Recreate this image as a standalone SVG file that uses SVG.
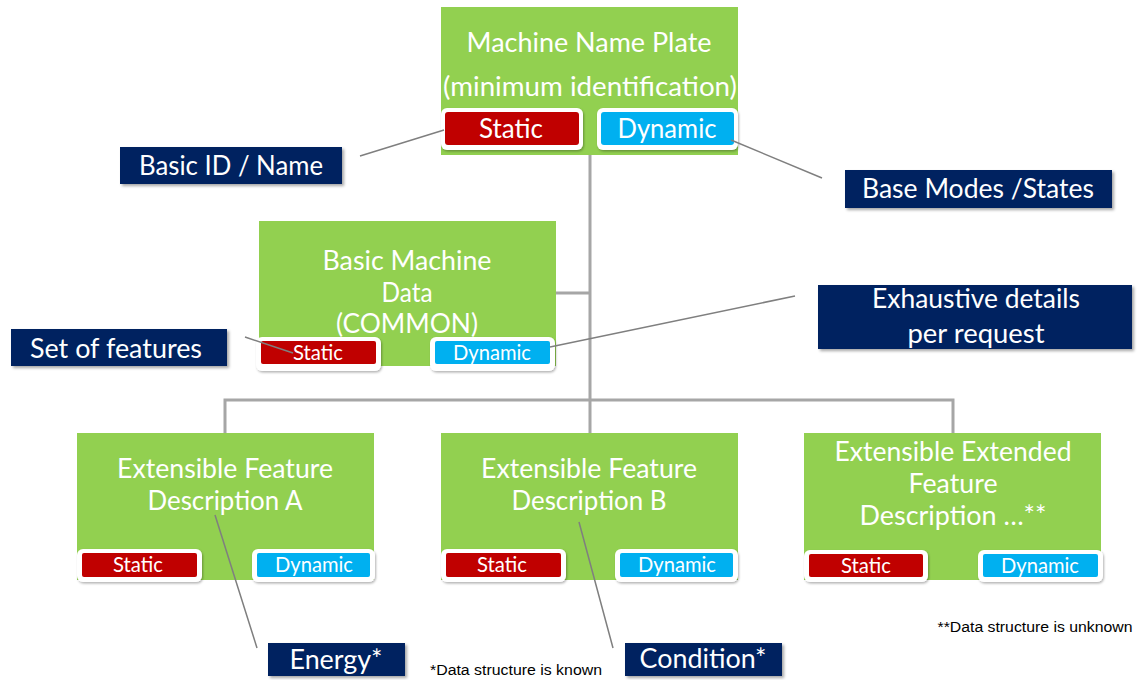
<svg xmlns="http://www.w3.org/2000/svg" width="1137" height="680" viewBox="0 0 1137 680">
<defs>
<filter id="sh" x="-10%" y="-20%" width="130%" height="150%"><feDropShadow dx="2" dy="2" stdDeviation="1.5" flood-color="#000" flood-opacity="0.35"/></filter>
<filter id="ps" x="-10%" y="-20%" width="130%" height="150%"><feDropShadow dx="1" dy="1.5" stdDeviation="1.2" flood-color="#000" flood-opacity="0.3"/></filter>
</defs>
<style>
text{font-family:Lato,"Open Sans","Liberation Sans",sans-serif;text-anchor:middle;fill:#fff}
.box{fill:#92D050}
.lab{fill:#002060;filter:url(#sh)}
.pw{fill:#fff;filter:url(#ps)}
.red{fill:#C00000}
.blue{fill:#00B0F0}
.t28{font-size:27px}
.t22{font-size:21px}
.tree{stroke:#A6A6A6;stroke-width:3;fill:none}
.call{stroke:#7F7F7F;stroke-width:1.5;fill:none}
.note{font-family:"Liberation Sans",Arial,sans-serif;font-size:14px;fill:#000}
</style>
<g id="nameplate">
<rect class="box" x="441" y="7" width="297" height="148"/>
<text class="t28" x="589" y="52" textLength="245" lengthAdjust="spacingAndGlyphs">Machine Name Plate</text>
<text class="t28" x="590" y="96" textLength="294" lengthAdjust="spacingAndGlyphs">(minimum identification)</text>
<rect class="pw" x="441" y="108" width="142" height="42" rx="6"/>
<rect class="red" x="445" y="112" width="134" height="33" rx="3"/>
<text class="t28" x="511" y="138" textLength="64" lengthAdjust="spacingAndGlyphs">Static</text>
<rect class="pw" x="597" y="108" width="141" height="42" rx="6"/>
<rect class="blue" x="601" y="112" width="133" height="33" rx="3"/>
<text class="t28" x="667" y="138" textLength="99" lengthAdjust="spacingAndGlyphs">Dynamic</text>
</g>
<g id="basicdata">
<rect class="box" x="259" y="221" width="297" height="145"/>
<text class="t28" x="407" y="270" textLength="169" lengthAdjust="spacingAndGlyphs">Basic Machine</text>
<text class="t28" x="407" y="302" textLength="51" lengthAdjust="spacingAndGlyphs">Data</text>
<text class="t28" x="407" y="333" textLength="142" lengthAdjust="spacingAndGlyphs">(COMMON)</text>
<rect class="pw" x="256" y="337" width="125" height="34" rx="6"/>
<rect class="red" x="261" y="341" width="115" height="23" rx="2"/>
<text class="t22" x="318" y="360" textLength="50" lengthAdjust="spacingAndGlyphs">Static</text>
<rect class="pw" x="430" y="337" width="125" height="34" rx="6"/>
<rect class="blue" x="435" y="341" width="115" height="23" rx="2"/>
<text class="t22" x="492" y="360" textLength="78" lengthAdjust="spacingAndGlyphs">Dynamic</text>
</g>
<g id="featA">
<rect class="box" x="77" y="433" width="297" height="147"/>
<text class="t28" x="225" y="478" textLength="216" lengthAdjust="spacingAndGlyphs">Extensible Feature</text>
<text class="t28" x="225" y="510" textLength="155" lengthAdjust="spacingAndGlyphs">Description A</text>
<rect class="pw" x="77" y="549" width="125" height="33" rx="6"/>
<rect class="red" x="82" y="553" width="115" height="24" rx="2"/>
<text class="t22" x="138" y="572" textLength="50" lengthAdjust="spacingAndGlyphs">Static</text>
<rect class="pw" x="252" y="549" width="123" height="33" rx="6"/>
<rect class="blue" x="257" y="553" width="113" height="24" rx="2"/>
<text class="t22" x="314" y="572" textLength="78" lengthAdjust="spacingAndGlyphs">Dynamic</text>
</g>
<g id="featB">
<rect class="box" x="441" y="433" width="297" height="147"/>
<text class="t28" x="589" y="478" textLength="216" lengthAdjust="spacingAndGlyphs">Extensible Feature</text>
<text class="t28" x="589" y="510" textLength="155" lengthAdjust="spacingAndGlyphs">Description B</text>
<rect class="pw" x="441" y="549" width="125" height="33" rx="6"/>
<rect class="red" x="446" y="553" width="115" height="24" rx="2"/>
<text class="t22" x="502" y="572" textLength="50" lengthAdjust="spacingAndGlyphs">Static</text>
<rect class="pw" x="615" y="549" width="123" height="33" rx="6"/>
<rect class="blue" x="620" y="553" width="113" height="24" rx="2"/>
<text class="t22" x="677" y="572" textLength="78" lengthAdjust="spacingAndGlyphs">Dynamic</text>
</g>
<g id="featC">
<rect class="box" x="804" y="433" width="297" height="147"/>
<text class="t28" x="953" y="461" textLength="237" lengthAdjust="spacingAndGlyphs">Extensible Extended</text>
<text class="t28" x="953" y="493" textLength="89" lengthAdjust="spacingAndGlyphs">Feature</text>
<text class="t28" x="953" y="525" textLength="187" lengthAdjust="spacingAndGlyphs">Description …**</text>
<rect class="pw" x="804" y="550" width="124" height="32" rx="6"/>
<rect class="red" x="809" y="554" width="114" height="23" rx="2"/>
<text class="t22" x="866" y="573" textLength="50" lengthAdjust="spacingAndGlyphs">Static</text>
<rect class="pw" x="978" y="550" width="125" height="32" rx="6"/>
<rect class="blue" x="983" y="554" width="115" height="23" rx="2"/>
<text class="t22" x="1040" y="573" textLength="78" lengthAdjust="spacingAndGlyphs">Dynamic</text>
</g>
<g id="lblBasicID">
<rect class="lab" x="120" y="147" width="222" height="37"/>
<text class="t28" x="231" y="175" textLength="184" lengthAdjust="spacingAndGlyphs">Basic ID / Name</text>
</g>
<g id="lblModes">
<rect class="lab" x="845" y="170" width="267" height="38"/>
<text class="t28" x="978" y="198" textLength="232" lengthAdjust="spacingAndGlyphs">Base Modes /States</text>
</g>
<g id="lblFeatures">
<rect class="lab" x="11" y="329" width="216" height="37"/>
<text class="t28" x="116" y="358" textLength="172" lengthAdjust="spacingAndGlyphs">Set of features</text>
</g>
<g id="lblExhaustive">
<rect class="lab" x="818" y="285" width="314" height="64"/>
<text class="t28" x="976" y="308" textLength="208" lengthAdjust="spacingAndGlyphs">Exhaustive details</text>
<text class="t28" x="976" y="343" textLength="137" lengthAdjust="spacingAndGlyphs">per request</text>
</g>
<g id="lblEnergy">
<rect class="lab" x="268" y="643" width="137" height="33"/>
<text class="t28" x="336" y="669" textLength="93" lengthAdjust="spacingAndGlyphs">Energy*</text>
</g>
<g id="lblCondition">
<rect class="lab" x="625" y="643" width="157" height="33"/>
<text class="t28" x="703" y="668" textLength="127" lengthAdjust="spacingAndGlyphs">Condition*</text>
</g>
<g id="connectors">
<path class="tree" d="M590 155V433M556 293H590M225 433V400H953V433"/>
<path class="call" d="M360 156L444 130M731 140L822 178M245 337L293 353M550 347L795 296M215 515L257 648M579 522L613 648"/>
</g>
<text class="note" x="516" y="675" textLength="172" lengthAdjust="spacingAndGlyphs">*Data structure is known</text>
<text class="note" x="1035" y="632" textLength="195" lengthAdjust="spacingAndGlyphs">**Data structure is unknown</text>
</svg>
